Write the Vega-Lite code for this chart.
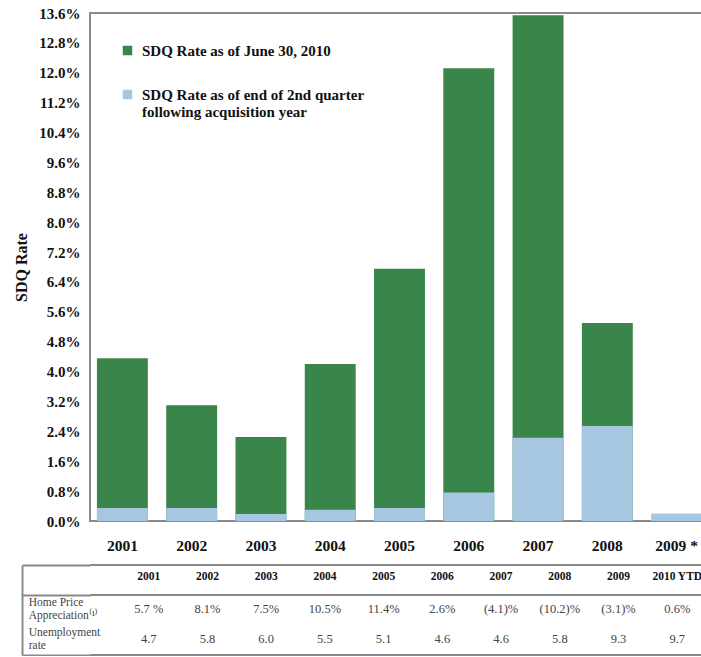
{
  "$schema": "https://vega.github.io/schema/vega-lite/v6.json",
  "padding": {"left": 12, "top": 5, "right": 0, "bottom": 0},
  "background": "white",
  "spacing": 9,
  "config": {
    "view": {"stroke": "#8a8a8a", "strokeWidth": 2},
    "font": "Liberation Serif"
  },
  "datasets": {
    "bars": [
      {"year": "2001", "series": "SDQ Rate as of June 30, 2010", "value": 4.36},
      {"year": "2002", "series": "SDQ Rate as of June 30, 2010", "value": 3.1},
      {"year": "2003", "series": "SDQ Rate as of June 30, 2010", "value": 2.25},
      {"year": "2004", "series": "SDQ Rate as of June 30, 2010", "value": 4.2},
      {"year": "2005", "series": "SDQ Rate as of June 30, 2010", "value": 6.75},
      {"year": "2006", "series": "SDQ Rate as of June 30, 2010", "value": 12.12},
      {"year": "2007", "series": "SDQ Rate as of June 30, 2010", "value": 13.54},
      {"year": "2008", "series": "SDQ Rate as of June 30, 2010", "value": 5.3},
      {"year": "2001", "series": "SDQ Rate as of end of 2nd quarter following acquisition year", "value": 0.35},
      {"year": "2002", "series": "SDQ Rate as of end of 2nd quarter following acquisition year", "value": 0.35},
      {"year": "2003", "series": "SDQ Rate as of end of 2nd quarter following acquisition year", "value": 0.19},
      {"year": "2004", "series": "SDQ Rate as of end of 2nd quarter following acquisition year", "value": 0.3},
      {"year": "2005", "series": "SDQ Rate as of end of 2nd quarter following acquisition year", "value": 0.35},
      {"year": "2006", "series": "SDQ Rate as of end of 2nd quarter following acquisition year", "value": 0.76},
      {"year": "2007", "series": "SDQ Rate as of end of 2nd quarter following acquisition year", "value": 2.23},
      {"year": "2008", "series": "SDQ Rate as of end of 2nd quarter following acquisition year", "value": 2.54},
      {"year": "2009 *", "series": "SDQ Rate as of end of 2nd quarter following acquisition year", "value": 0.2}
    ],
    "table": [
      {"row": "header", "col": "2001", "text": "2001"},
      {"row": "header", "col": "2002", "text": "2002"},
      {"row": "header", "col": "2003", "text": "2003"},
      {"row": "header", "col": "2004", "text": "2004"},
      {"row": "header", "col": "2005", "text": "2005"},
      {"row": "header", "col": "2006", "text": "2006"},
      {"row": "header", "col": "2007", "text": "2007"},
      {"row": "header", "col": "2008", "text": "2008"},
      {"row": "header", "col": "2009", "text": "2009"},
      {"row": "header", "col": "2010 YTD", "text": "2010 YTD"},
      {"row": "Home Price Appreciation", "col": "label", "text": "Home Price\nAppreciation⁽¹⁾"},
      {"row": "Home Price Appreciation", "col": "2001", "text": "5.7 %"},
      {"row": "Home Price Appreciation", "col": "2002", "text": "8.1%"},
      {"row": "Home Price Appreciation", "col": "2003", "text": "7.5%"},
      {"row": "Home Price Appreciation", "col": "2004", "text": "10.5%"},
      {"row": "Home Price Appreciation", "col": "2005", "text": "11.4%"},
      {"row": "Home Price Appreciation", "col": "2006", "text": "2.6%"},
      {"row": "Home Price Appreciation", "col": "2007", "text": "(4.1)%"},
      {"row": "Home Price Appreciation", "col": "2008", "text": "(10.2)%"},
      {"row": "Home Price Appreciation", "col": "2009", "text": "(3.1)%"},
      {"row": "Home Price Appreciation", "col": "2010 YTD", "text": "0.6%"},
      {"row": "Unemployment rate", "col": "label", "text": "Unemployment\nrate"},
      {"row": "Unemployment rate", "col": "2001", "text": "4.7"},
      {"row": "Unemployment rate", "col": "2002", "text": "5.8"},
      {"row": "Unemployment rate", "col": "2003", "text": "6.0"},
      {"row": "Unemployment rate", "col": "2004", "text": "5.5"},
      {"row": "Unemployment rate", "col": "2005", "text": "5.1"},
      {"row": "Unemployment rate", "col": "2006", "text": "4.6"},
      {"row": "Unemployment rate", "col": "2007", "text": "4.6"},
      {"row": "Unemployment rate", "col": "2008", "text": "5.8"},
      {"row": "Unemployment rate", "col": "2009", "text": "9.3"},
      {"row": "Unemployment rate", "col": "2010 YTD", "text": "9.7"}
    ],
    "lines": [
      {"row": "header", "edge": "start"},
      {"row": "Home Price Appreciation", "edge": "start"},
      {"row": "Unemployment rate", "edge": "end"}
    ]
  },
  "resolve": {"scale": {"x": "independent", "y": "independent"}},
  "vconcat": [
    {
      "width": 619,
      "height": 508,
      "data": {"name": "bars"},
      "mark": {"type": "bar"},
      "encoding": {
        "x": {
          "field": "year",
          "type": "nominal",
          "sort": null,
          "scale": {"domain": ["2001", "2002", "2003", "2004", "2005", "2006", "2007", "2008", "2009 *"], "paddingInner": 0.265, "paddingOuter": 0.1},
          "axis": {"title": null, "labelAngle": 0, "labelFont": "Liberation Serif", "labelFontWeight": "bold", "labelFontSize": 15.5, "labelColor": "#111", "ticks": false, "domain": false, "labelPadding": 17}
        },
        "y": {
          "field": "value",
          "type": "quantitative",
          "stack": null,
          "scale": {"domain": [0, 13.6], "nice": false, "zero": true},
          "axis": {
            "title": "SDQ Rate",
            "titleFont": "Liberation Serif",
            "titleFontWeight": "bold",
            "titleFontSize": 16,
            "titleColor": "#111",
            "titlePadding": 9,
            "values": [0, 0.8, 1.6, 2.4, 3.2, 4.0, 4.8, 5.6, 6.4, 7.2, 8.0, 8.8, 9.6, 10.4, 11.2, 12.0, 12.8, 13.6],
            "labelExpr": "format(datum.value, '.1f') + '%'",
            "labelFont": "Liberation Serif",
            "labelFontWeight": "bold",
            "labelFontSize": 15,
            "labelColor": "#111",
            "labelPadding": 10,
            "ticks": false,
            "domain": false,
            "grid": false
          }
        },
        "color": {
          "field": "series",
          "type": "nominal",
          "sort": null,
          "scale": {"domain": ["SDQ Rate as of June 30, 2010", "SDQ Rate as of end of 2nd quarter following acquisition year"], "range": ["#3a8549", "#a7c7e0"]},
          "legend": {
            "title": null,
            "orient": "none",
            "legendX": 30,
            "legendY": 30,
            "symbolType": "square",
            "symbolSize": 90,
            "symbolStrokeWidth": 0,
            "labelFont": "Liberation Serif",
            "labelFontWeight": "bold",
            "labelFontSize": 15,
            "labelColor": "#111",
            "labelLimit": 500,
            "rowPadding": 28,
            "labelOffset": 7,
            "labelExpr": "datum.label == 'SDQ Rate as of end of 2nd quarter following acquisition year' ? ['SDQ Rate as of end of 2nd quarter', 'following acquisition year'] : datum.label"
          }
        }
      }
    },
    {
      "width": 646,
      "height": 90,
      "view": {"stroke": null},
      "data": {"name": "table"},
      "encoding": {
        "y": {
          "field": "row",
          "type": "nominal",
          "sort": null,
          "scale": {"type": "band", "domain": ["header", "Home Price Appreciation", "Unemployment rate"], "paddingInner": 0, "paddingOuter": 0},
          "axis": {
            "values": ["header", "Unemployment rate"],
            "bandPosition": 1,
            "tickExtra": true,
            "offset": 68,
            "domain": true,
            "domainColor": "#8a8a8a",
            "domainWidth": 2,
            "ticks": true,
            "tickSize": -68,
            "tickColor": "#8a8a8a",
            "tickWidth": 2,
            "grid": false,
            "labels": false,
            "title": null
          }
        }
      },
      "layer": [
        {
          "data": {"name": "lines"},
          "transform": [{"filter": "datum.edge == 'start'"}],
          "mark": {"type": "rule", "color": "#8a8a8a", "strokeWidth": 2},
          "encoding": {
            "y": {"field": "row", "type": "nominal", "bandPosition": 0}
          }
        },
        {
          "data": {"name": "lines"},
          "transform": [{"filter": "datum.edge == 'end'"}],
          "mark": {"type": "rule", "color": "#8a8a8a", "strokeWidth": 2},
          "encoding": {
            "y": {"field": "row", "type": "nominal", "bandPosition": 1}
          }
        },
        {
          "transform": [{"filter": "datum.row == 'header'"}],
          "mark": {"type": "text", "font": "Liberation Serif", "fontWeight": "bold", "fontSize": 11.5, "color": "#111", "dy": -3},
          "encoding": {
            "x": {"field": "col", "type": "nominal", "sort": null, "scale": {"type": "point", "domain": ["2001", "2002", "2003", "2004", "2005", "2006", "2007", "2008", "2009", "2010 YTD"], "padding": 1.069}, "axis": null},
            "text": {"field": "text"}
          }
        },
        {
          "transform": [{"filter": "datum.row != 'header' && datum.col != 'label'"}],
          "mark": {"type": "text", "font": "Liberation Serif", "fontSize": 12.5, "color": "#444", "dy": -1},
          "encoding": {
            "x": {"field": "col", "type": "nominal", "sort": null, "axis": null},
            "text": {"field": "text"}
          }
        },
        {
          "transform": [{"filter": "datum.col == 'label' && datum.row == 'Home Price Appreciation'"}],
          "mark": {"type": "text", "font": "Liberation Serif", "fontSize": 11.5, "color": "#444", "align": "left", "dx": -120, "dy": -7, "lineBreak": "\n", "lineHeight": 13},
          "encoding": {
            "x": {"datum": "2001", "type": "nominal", "axis": null},
            "text": {"field": "text"}
          }
        },
        {
          "transform": [{"filter": "datum.col == 'label' && datum.row == 'Unemployment rate'"}],
          "mark": {"type": "text", "font": "Liberation Serif", "fontSize": 11.5, "color": "#444", "align": "left", "dx": -120, "dy": -7, "lineBreak": "\n", "lineHeight": 13},
          "encoding": {
            "x": {"datum": "2001", "type": "nominal", "axis": null},
            "text": {"field": "text"}
          }
        }
      ]
    }
  ]
}
